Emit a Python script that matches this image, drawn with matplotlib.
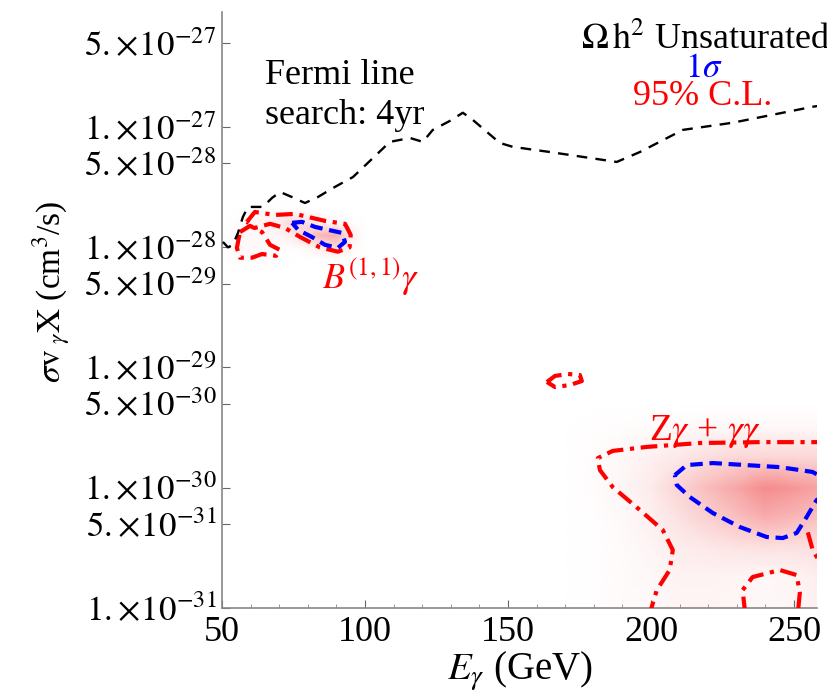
import numpy as np
import matplotlib
matplotlib.use("Agg")
import matplotlib.pyplot as plt
from matplotlib.colors import LinearSegmentedColormap
from matplotlib.ticker import FixedLocator, FixedFormatter, MultipleLocator

plt.rcParams['font.family'] = ['Liberation Serif', 'DejaVu Serif']
plt.rcParams['mathtext.fontset'] = 'stix'

# ---------------- data ----------------
# Fermi 4yr line-search limit (E_gamma in GeV, sigma v in cm^3/s)
fermi_E = [50.3, 52.1, 53.8, 55.6, 57.3, 59.1, 62.2, 64.3, 67.5, 70.3, 74.5, 79.0, 83.5,
           88.8, 95.8, 102.8, 108.7, 115.7, 120.2, 123.7, 129.7, 134.2, 137.7, 147.1,
           151.7, 164.6, 188.0, 196.1, 211.1, 228.5, 256.5, 262.0]
fermi_sv = [1.11e-28, 1.0e-28, 1.05e-28, 1.32e-28, 1.79e-28, 2.17e-28, 2.17e-28, 2.17e-28,
            2.58e-28, 2.89e-28, 2.62e-28, 2.34e-28, 2.62e-28, 3.12e-28, 3.85e-28, 5.55e-28,
            7.55e-28, 8.14e-28, 7.55e-28, 9.5e-28, 1.13e-27, 1.32e-27, 1.15e-27, 7.4e-28,
            6.86e-28, 6.22e-28, 5.14e-28, 6.22e-28, 9.5e-28, 1.09e-27, 1.48e-27, 1.55e-27]

# B(1,1) gamma region: 95% C.L. contours
b95a_E = [58.7, 61.5, 68.5, 75.5, 86.0, 93.0, 95.0, 94.6, 90.5, 84.2, 77.3, 72.0, 66.8, 61.5, 58.7]
b95a_sv = [1.63e-28, 1.97e-28, 1.86e-28, 1.90e-28, 1.66e-28, 1.57e-28, 1.27e-28, 1.0e-28,
           9.2e-29, 1.0e-28, 1.22e-28, 1.45e-28, 1.57e-28, 1.45e-28, 1.63e-28]
b95b_E = [56.3, 59.8, 64.0, 66.8, 70.3, 68.9, 64.0, 60.5, 56.3, 55.2, 56.3]
b95b_sv = [1.34e-28, 1.51e-28, 1.34e-28, 1.05e-28, 9.5e-29, 8.5e-29, 8.8e-29, 8.2e-29,
           8.2e-29, 9.9e-29, 1.34e-28]
# B(1,1) gamma region: 1 sigma contour
b1s_E = [74.5, 78.0, 82.5, 87.0, 91.9, 93.0, 90.5, 86.0, 81.4, 76.6, 74.5]
b1s_sv = [1.60e-28, 1.63e-28, 1.48e-28, 1.40e-28, 1.32e-28, 1.11e-28, 9.9e-29, 1.05e-28,
          1.22e-28, 1.40e-28, 1.60e-28]

# small island near 170 GeV (95% C.L.)
isl_E = [163.6, 166.4, 170.9, 175.1, 175.8, 171.6, 166.4, 163.6]
isl_sv = [7.57e-30, 8.5e-30, 8.83e-30, 8.65e-30, 7.71e-30, 7.14e-30, 6.87e-30, 7.57e-30]

# Z gamma + gamma gamma region: 95% C.L. outer contour
z95_E = [262.0, 238.0, 217.0, 198.5, 186.6, 181.4, 182.1, 186.6, 196.1, 204.1, 207.6,
         206.5, 202.0, 200.2, 199.8]
z95_sv = [2.39e-30, 2.39e-30, 2.35e-30, 2.18e-30, 2.02e-30, 1.76e-30, 1.40e-30, 1.01e-30,
          6.5e-31, 4.43e-31, 3.02e-31, 2.06e-31, 1.40e-31, 1.01e-31, 9.0e-32]
z95r_E = [254.8, 256.5, 259.0, 261.0]
z95r_sv = [4.24e-31, 3.02e-31, 2.4e-31, 2.1e-31]
z95h_E = [232.9, 232.0, 235.5, 245.0, 250.9, 252.0, 251.3]
z95h_sv = [9.0e-32, 1.40e-31, 1.80e-31, 2.06e-31, 1.87e-31, 1.33e-31, 9.0e-32]
# Z gamma + gamma gamma region: 1 sigma contour
z1s_E = [208.3, 212.5, 221.6, 245.0, 256.4, 260.5, 260.5, 257.9, 254.4, 250.9, 246.0,
         240.4, 231.0, 221.6, 213.5, 209.0, 208.3]
z1s_sv = [1.27e-30, 1.54e-30, 1.60e-30, 1.48e-30, 1.35e-30, 1.2e-30, 8.4e-31, 7.9e-31,
          5.7e-31, 4.19e-31, 3.8e-31, 3.88e-31, 4.7e-31, 6.14e-31, 8.36e-31, 1.05e-30,
          1.27e-30]

# likelihood shading (relative intensity) read on coarse grids
zs_E = [170, 180, 190, 200, 210, 220, 230, 240, 250, 260]
zs_logsv = [-31.1, -30.75, -30.5, -30.25, -30.0, -29.75, -29.5, -29.3]
zs_I = [[0.00, 0.01, 0.03, 0.05, 0.07, 0.07, 0.06, 0.05, 0.06, 0.10],
        [0.00, 0.01, 0.03, 0.05, 0.08, 0.08, 0.07, 0.05, 0.07, 0.12],
        [0.00, 0.01, 0.03, 0.07, 0.12, 0.15, 0.18, 0.20, 0.20, 0.22],
        [0.00, 0.01, 0.04, 0.10, 0.20, 0.32, 0.42, 0.55, 0.48, 0.40],
        [0.00, 0.02, 0.06, 0.14, 0.30, 0.45, 0.60, 0.78, 0.70, 0.60],
        [0.00, 0.02, 0.05, 0.10, 0.16, 0.22, 0.27, 0.28, 0.27, 0.27],
        [0.00, 0.01, 0.02, 0.03, 0.04, 0.05, 0.05, 0.05, 0.05, 0.05],
        [0.00, 0.00, 0.00, 0.00, 0.00, 0.00, 0.00, 0.00, 0.00, 0.00]]
bs_E = [52, 55, 60, 65, 70, 75, 80, 85, 90, 95, 100]
bs_logsv = [-28.2, -28.1, -28.0, -27.9, -27.8, -27.7, -27.6]
bs_I = [[0.00, 0.00, 0.00, 0.00, 0.00, 0.00, 0.00, 0.00, 0.00, 0.00, 0.00],
        [0.00, 0.03, 0.03, 0.02, 0.01, 0.00, 0.00, 0.00, 0.00, 0.00, 0.00],
        [0.00, 0.05, 0.05, 0.03, 0.02, 0.02, 0.05, 0.15, 0.25, 0.05, 0.00],
        [0.00, 0.05, 0.05, 0.05, 0.06, 0.15, 0.35, 0.50, 0.55, 0.12, 0.00],
        [0.00, 0.02, 0.05, 0.08, 0.15, 0.30, 0.22, 0.10, 0.05, 0.02, 0.00],
        [0.00, 0.00, 0.01, 0.03, 0.03, 0.03, 0.01, 0.00, 0.00, 0.00, 0.00],
        [0.00, 0.00, 0.00, 0.00, 0.00, 0.00, 0.00, 0.00, 0.00, 0.00, 0.00]]

ytick_vals = [5e-27, 1e-27, 5e-28, 1e-28, 5e-29, 1e-29, 5e-30, 1e-30, 5e-31, 1e-31]
ytick_labels = [r"$5.\!\times\!10^{-27}$", r"$1.\!\times\!10^{-27}$", r"$5.\!\times\!10^{-28}$",
                r"$1.\!\times\!10^{-28}$", r"$5.\!\times\!10^{-29}$", r"$1.\!\times\!10^{-29}$",
                r"$5.\!\times\!10^{-30}$", r"$1.\!\times\!10^{-30}$", r"$5.\!\times\!10^{-31}$",
                r"$1.\!\times\!10^{-31}$"]
xtick_vals = [50, 100, 150, 200, 250]

# ---------------- figure ----------------
fig = plt.figure(figsize=(8.28, 6.95), dpi=100)
ax = fig.add_axes([0.2681, 0.1256, 0.7186, 0.8571])
ax.set_yscale('log')
ax.set_xlim(50, 258)
ax.set_ylim(1e-31, 9.1e-27)

pink = LinearSegmentedColormap.from_list('pink', ['#ffffff', '#f26a6a'])
for E, L, I in [(zs_E, zs_logsv, zs_I), (bs_E, bs_logsv, bs_I)]:
    X, Y = np.meshgrid(E, 10.0 ** np.array(L))
    ax.pcolormesh(X, Y, np.array(I), shading='gouraud', cmap=pink, vmin=0, vmax=1,
                  zorder=1, rasterized=True)

red_kw = dict(color='#ff0000', lw=3.0, linestyle=(0, (4, 1.6, 1, 1.6)), zorder=3)
blue_kw = dict(color='#0000ff', lw=3.0, linestyle=(0, (3, 1.6)), zorder=4)
ax.plot(fermi_E, fermi_sv, color='black', lw=1.7, linestyle=(0, (4.5, 3.5)), zorder=5)
ax.plot(b95a_E, b95a_sv, **red_kw)
ax.plot(b95b_E, b95b_sv, **red_kw)
ax.plot(isl_E, isl_sv, **red_kw)
ax.plot(z95_E, z95_sv, **red_kw)
ax.plot(z95r_E, z95r_sv, **red_kw)
ax.plot(z95h_E, z95h_sv, **red_kw)
ax.plot(b1s_E, b1s_sv, **blue_kw)
ax.plot(z1s_E, z1s_sv, **blue_kw)

# axes styling
for s in ['top', 'right']:
    ax.spines[s].set_visible(False)
for s in ['left', 'bottom']:
    ax.spines[s].set_color('#888888')
    ax.spines[s].set_linewidth(1.2)
ax.yaxis.set_major_locator(FixedLocator(ytick_vals))
ax.yaxis.set_major_formatter(FixedFormatter(ytick_labels))
ax.yaxis.set_minor_locator(FixedLocator([]))
ax.xaxis.set_major_locator(FixedLocator(xtick_vals))
ax.xaxis.set_minor_locator(MultipleLocator(10))
ax.tick_params(axis='y', which='major', direction='in', length=6, width=0.8,
               color='#666666', labelsize=25, pad=4)
ax.tick_params(axis='x', which='major', direction='in', length=6, width=0.8,
               color='#666666', labelsize=26, pad=6)
ax.tick_params(axis='x', which='minor', direction='in', length=3, width=0.6, color='#888888')

ax.set_xlabel(r"$E_{\gamma}$ (GeV)", fontsize=28, labelpad=0)
ax.set_ylabel(r"$\sigma\mathrm{v}_{\ \gamma}\mathrm{X}$ (cm$^3$/s)", fontsize=24, labelpad=2)
ax.yaxis.set_label_coords(-0.25, 0.53)

# annotations
ax.text(0.072, 0.86, "Fermi line\nsearch: 4yr", transform=ax.transAxes, fontsize=26,
        ha='left', va='center', linespacing=1.3)
fig.text(0.702, 0.943, r"$\Omega\,\mathrm{h}^2$ Unsaturated", fontsize=26, ha='left', va='center')
fig.text(0.850, 0.901, r"$1\sigma$", fontsize=25, ha='center', va='center', color='#0000ff')
fig.text(0.848, 0.861, "95% C.L.", fontsize=26, ha='center', va='center', color='#ff0000')
fig.text(0.448, 0.603, r"$B^{(1,1)}\gamma$", fontsize=26, ha='center', va='center', color='#ff0000')
fig.text(0.851, 0.379, r"Z$\gamma$ + $\gamma\gamma$", fontsize=27, ha='center', va='center',
         color='#ff0000')

fig.savefig("out.png", dpi=100)
